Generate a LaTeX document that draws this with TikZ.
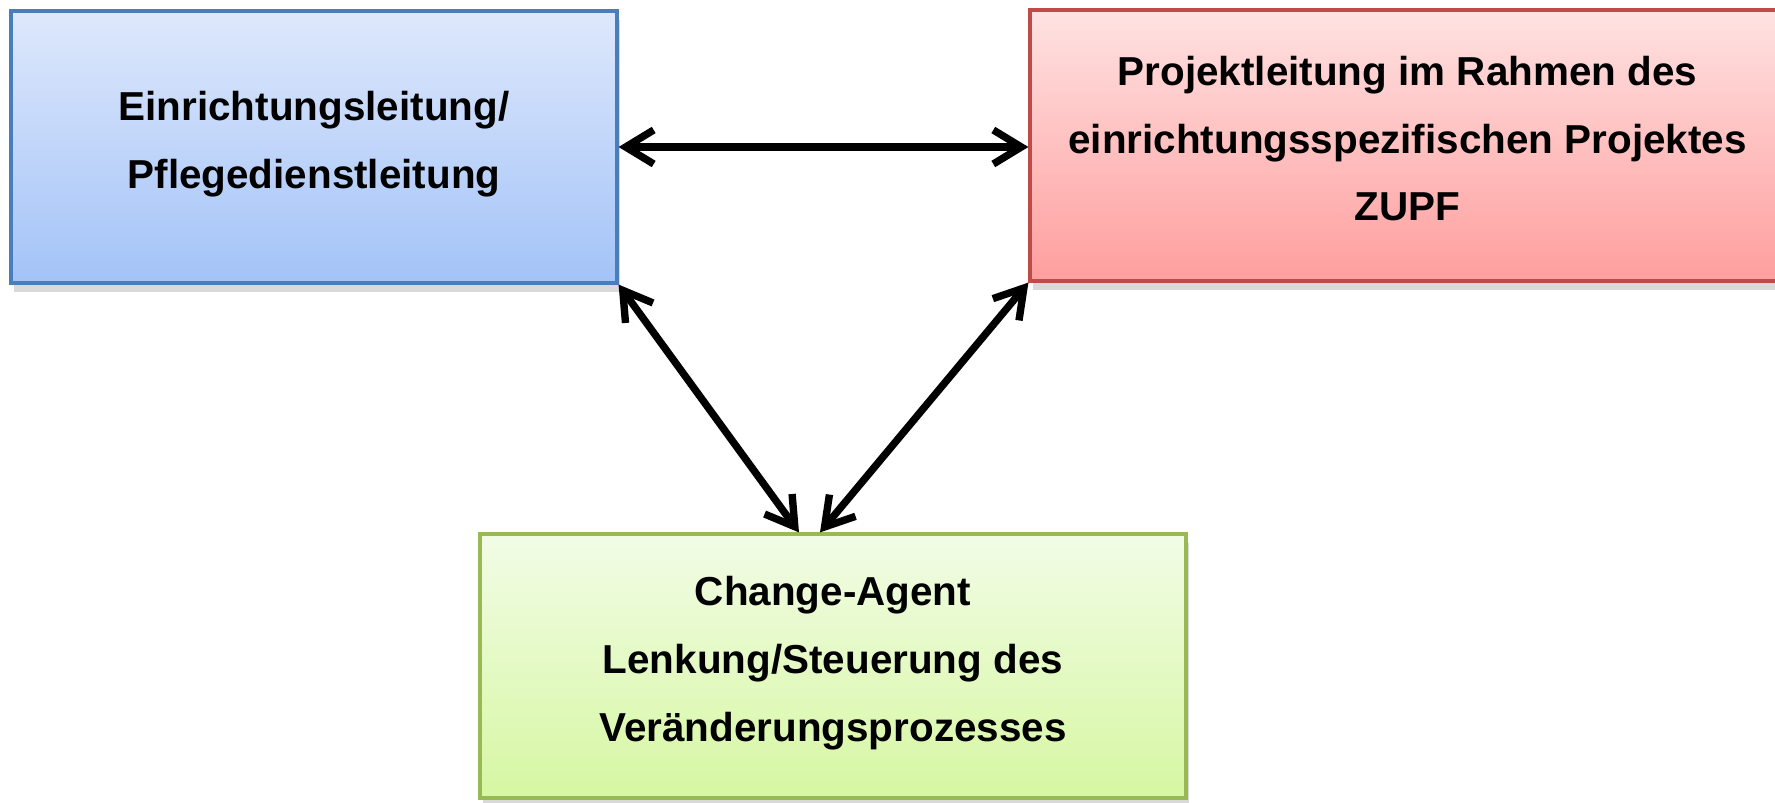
\documentclass[tikz,border=0pt]{standalone}
\usepackage{fontspec}
\setmainfont{Liberation Sans}
\usepackage{xcolor}
\usepackage{tikz}
\usetikzlibrary{arrows.meta,positioning,shadows}
\definecolor{blaurand}{HTML}{4A7EBB}
\definecolor{blauoben}{HTML}{DEE8FC}
\definecolor{blauunten}{HTML}{A3C3F7}
\definecolor{rotrand}{HTML}{BE4B48}
\definecolor{rotoben}{HTML}{FFE2E2}
\definecolor{rotunten}{HTML}{FF9E9E}
\definecolor{gruenrand}{HTML}{98B954}
\definecolor{gruenoben}{HTML}{F2FCE6}
\definecolor{gruenunten}{HTML}{D6F7A2}
\tikzset{
  pfeil/.style={{Straight Barb[length=2.8mm,width=3.4mm]}-{Straight Barb[length=2.8mm,width=3.4mm]},line width=2.1pt,black},
  kasten/.style={line width=0.9pt,align=center,inner sep=4pt,text depth=4pt,font=\fontsize{11.5}{19.3}\selectfont\bfseries,
    drop shadow={shadow xshift=0.3mm,shadow yshift=-0.9mm,opacity=0.3}}
}
\begin{document}
\begin{tikzpicture}
\useasboundingbox (0,0) rectangle (17.75,8.02);
\node[kasten,draw=blaurand,top color=blauoben,bottom color=blauunten,minimum width=6.06cm,minimum height=2.72cm] (leitung) at (3.14,6.55) {Einrichtungsleitung/\\Pflegedienstleitung};
\node[kasten,draw=rotrand,top color=rotoben,bottom color=rotunten,minimum width=7.55cm,minimum height=2.71cm] (projekt) at (14.075,6.565) {Projektleitung im Rahmen des\\einrichtungsspezifischen Projektes\\ZUPF};
\node[kasten,draw=gruenrand,top color=gruenoben,bottom color=gruenunten,minimum width=7.06cm,minimum height=2.64cm] (agent) at (8.33,1.36) {Change-Agent\\Lenkung/Steuerung des\\Veränderungsprozesses};
\coordinate (agentL) at ([xshift=-3.4mm]agent.north);
\coordinate (agentR) at ([xshift=-1.3mm]agent.north);
\draw[pfeil] (leitung.east) -- (leitung.east -| projekt.west);
\draw[pfeil] (leitung.south east) -- (agentL);
\draw[pfeil] (projekt.south west) -- (agentR);
\end{tikzpicture}
\end{document}
